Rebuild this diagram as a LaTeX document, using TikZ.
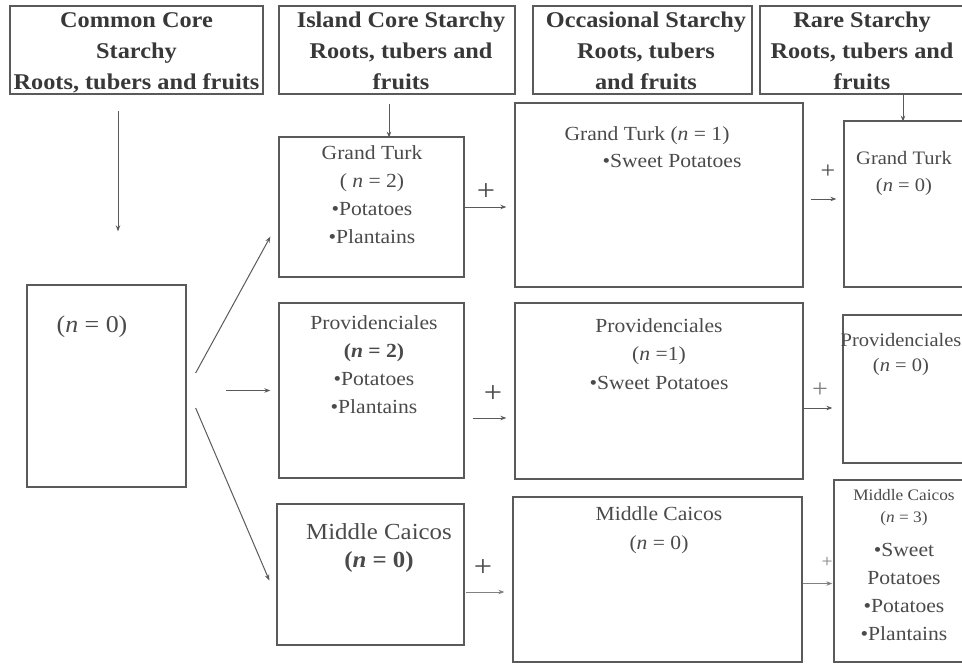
\documentclass[tikz,border=0pt]{standalone}
\usepackage{fontspec}
\setmainfont{Liberation Serif}[FakeStretch=1.08]
\usetikzlibrary{fit,calc,arrows.meta}
\definecolor{linec}{HTML}{5A5A5A}
\definecolor{txtc}{HTML}{4A4A4A}
\definecolor{hdrc}{HTML}{383838}
\begin{document}
\begin{tikzpicture}[x=1pt,y=-1pt,
  box/.style={draw=linec, line width=1.3pt, inner sep=0pt},
  hdr/.style={font=\fontsize{22.5}{31}\selectfont\bfseries, text=hdrc, align=center, inner sep=0pt, anchor=north},
  body/.style={font=\fontsize{20}{28}\selectfont, text=txtc, align=center, inner sep=0pt, anchor=north},
  plus/.style={font=\fontsize{30}{30}\selectfont, text=txtc, inner sep=0pt},
  arr/.style={draw=linec, line width=1pt, -{Stealth[length=6pt,width=4.5pt]}}
]
\useasboundingbox (0,0) rectangle (962,664);
\clip (0,0) rectangle (962,664);

% column headers
\node[box, fit={(10,6) (263,94)}]  (hC) {};
\node[box, fit={(279,6) (515,94)}] (hI) {};
\node[box, fit={(533,6) (752,94)}] (hO) {};
\node[box, fit={(760,6) (975,94)}] (hR) {};
\node[hdr] (hCt) at (136.5,12) {Common Core\\Starchy\\Roots, tubers and fruits};
\node[hdr] (hIt) at (401,12) {Island Core Starchy\\Roots, tubers and\\fruits};
\node[hdr] (hOt) at (646,12) {Occasional Starchy\\Roots, tubers\\and fruits};
\node[hdr] (hRt) at (862,12) {Rare Starchy\\Roots, tubers and\\fruits};

% common core
\node[box, fit={(27,285) (186,487)}] (cc) {};
\node[font=\fontsize{24}{28}\selectfont, text=txtc, inner sep=0pt] (cct) at (92,327) {(\textit{n} = 0)};

% Grand Turk row
\node[box, fit={(279,137) (464,277)}] (gtI) {};
\node[box, fit={(515,103) (803,287)}] (gtO) {};
\node[box, fit={(844,121) (975,287)}] (gtR) {};
\node[body] (gtIt) at (372,145) {Grand Turk\\( \textit{n} = 2)\\•Potatoes\\•Plantains};
\node[body] (gtOt) at (647,126) {Grand Turk (\textit{n} = 1)};
\node[body] (gtOs) at (672,154) {•Sweet Potatoes};
\node[body, font=\fontsize{19}{27}\selectfont] (gtRt) at (904,151) {Grand Turk\\(\textit{n} = 0)};

% Providenciales row
\node[box, fit={(279,303) (464,478)}] (pI) {};
\node[box, fit={(515,303) (803,479)}] (pO) {};
\node[box, fit={(843,315) (975,463)}] (pR) {};
\node[body] (pIt) at (374,315) {Providenciales\\\textbf{(\textit{n} = 2)}\\•Potatoes\\•Plantains};
\node[body, font=\fontsize{20}{28.5}\selectfont] (pOt) at (659,318) {Providenciales\\(\textit{n} =1)\\•Sweet Potatoes};
\node[body, font=\fontsize{19}{25}\selectfont] (pRt) at (901,333) {Providenciales\\(\textit{n} = 0)};

% Middle Caicos row
\node[box, fit={(277,504) (464,645)}] (mI) {};
\node[box, fit={(513,497) (802,662)}] (mO) {};
\node[box, fit={(834,480) (975,662)}] (mR) {};
\node[body, font=\fontsize{23}{28}\selectfont] (mIt) at (379,523) {Middle Caicos\\\textbf{(\textit{n} = 0)}};
\node[body, font=\fontsize{20}{29}\selectfont] (mOt) at (659,506) {Middle Caicos\\(\textit{n} = 0)};
\node[body, font=\fontsize{16}{22}\selectfont] (mRt) at (904,489) {Middle Caicos\\(\textit{n} = 3)};
\node[body] (mRs) at (904,543) {•Sweet\\Potatoes\\•Potatoes\\•Plantains};

% plus signs
\node[plus] (pl1) at (486,192) {+};
\node[plus, font=\fontsize{24}{24}\selectfont] (pl2) at (828,172) {+};
\node[plus] (pl3) at (493,394) {+};
\node[plus, font=\fontsize{26}{26}\selectfont, text=gray] (pl4) at (820,390) {+};
\node[plus] (pl5) at (483,568) {+};
\node[plus, font=\fontsize{18}{18}\selectfont, text=gray] (pl6) at (827,562) {+};

% header arrows
\draw[arr] ($(hC.south)+(-18.5,16)$) -- ($(cc.north)+(11.5,-53)$);
\draw[arr] ($(hI.south)+(-8,9)$) -- ($(hI.south)+(-8,43)$);
\draw[arr] ($(hR.south)+(35.5,0)$) -- ($(hR.south)+(35.5,27)$);

% from common core to the islands
\draw[arr] ($(cc.east)+(9,-13)$) -- ($(gtI.south west)+(-8,-41)$);
\draw[arr] ($(pI.west)+(-52,0)$) -- ($(pI.west)+(-8,0)$);
\draw[arr] ($(cc.east)+(9,22)$) -- ($(mI.west)+(-7,6)$);

% island to occasional to rare
\draw[arr] (gtI.east) -- ($(gtI.east -| gtO.west)+(-8,0)$);
\draw[arr] ($(gtO.east)+(7,4)$) -- ($(gtO.east -| gtR.west)+(-7,4)$);
\draw[arr] ($(pI.east)+(8,27.5)$) -- ($(pI.east -| pO.west)+(-8,27.5)$);
\draw[arr] ($(pO.east)+(0,17)$) -- ($(pO.east -| pR.west)+(-10,17)$);
\draw[arr, draw=gray] ($(mI.east)+(1,17.5)$) -- ($(mI.east -| mO.west)+(-8,17.5)$);
\draw[arr, draw=gray] ($(mO.east)+(0,4)$) -- ($(mO.east -| mR.west)+(-1,4)$);
\end{tikzpicture}
\end{document}
